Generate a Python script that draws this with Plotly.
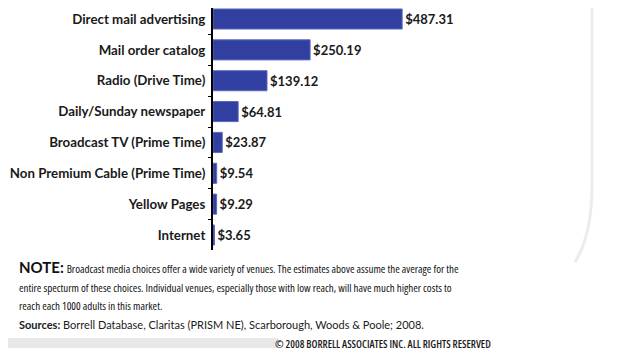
import plotly.graph_objects as go

categories = ["Direct mail advertising", "Mail order catalog", "Radio (Drive Time)",
              "Daily/Sunday newspaper", "Broadcast TV (Prime Time)",
              "Non Premium Cable (Prime Time)", "Yellow Pages", "Internet"]
values = [487.31, 250.19, 139.12, 64.81, 23.87, 9.54, 9.29, 3.65]
value_labels = ["$%.2f" % v for v in values]

OFF = 8  # default page body margin (page px = figure px + OFF)
W, H = 627 - OFF, 361 - 2 * OFF
L, R = 213 - OFF, 560 - OFF
PW = R - L
T, B = 0, 250 - OFF
PH = B - T


def px(x):
    return (x - OFF - L) / PW


def py(y):
    return 1 - (y - OFF - T) / PH


# category range so that centres land where the reference has them (page y 19 .. 235)
unit = (235 - 19) / 7
r_top = -(19 - (T + OFF)) / unit
r_bot = 7 + (B + OFF - 235) / unit

fig = go.Figure()
fig.add_trace(go.Bar(
    y=categories, x=values, orientation="h",
    text=value_labels, textposition="outside", cliponaxis=False,
    textfont=dict(family="Lato, Open Sans, sans-serif", size=13, color="#1a1a1a", weight="bold"),
    marker=dict(color="#3140a0", line=dict(color="#5a68c0", width=1)),
    width=0.65,
))

fig.update_layout(
    width=W, height=H,
    margin=dict(l=L, r=W - R, t=T, b=H - B),
    paper_bgcolor="white", plot_bgcolor="white",
    showlegend=False,
    xaxis=dict(range=[0, 894], visible=False, automargin=False),
    yaxis=dict(range=[r_bot, r_top], showline=True, linecolor="black", linewidth=2,
               ticks="outside", tickson="boundaries", ticklen=3, tickcolor="black",
               ticklabelstandoff=3, automargin=False,
               tickfont=dict(family="Lato, Open Sans, sans-serif", size=13.3, color="#1a1a1a", weight="bold"),
               showgrid=False, zeroline=False),
)

cond = "font-stretch:condensed"
note_lines = [
    "Broadcast media choices offer a wide variety of venues. The estimates above assume the average for the",
    "entire specturm of these choices. Individual venues, especially those with low reach, will have much higher costs to",
    "reach each 1000 adults in this market.",
]
note_y = [267, 287, 305]
for i, (line, yy) in enumerate(zip(note_lines, note_y)):
    prefix = "<b><span style='font-family:Lato;font-size:15px'>NOTE:</span></b> " if i == 0 else ""
    fig.add_annotation(xref="paper", yref="paper", x=px(17), y=py(yy), xanchor="left", yanchor="middle",
                       showarrow=False, align="left",
                       text=prefix + "<span style='%s'>%s</span>" % (cond, line),
                       font=dict(family="Open Sans", size=11, color="#111111"))

fig.add_annotation(xref="paper", yref="paper", x=px(17), y=py(324), xanchor="left", yanchor="middle",
                   showarrow=False, align="left",
                   text="<b>Sources:</b> Borrell Database, Claritas (PRISM NE), Scarborough, Woods &amp; Poole; 2008.",
                   font=dict(family="Lato, Open Sans, sans-serif", size=11, color="#1a1a1a"))
fig.add_annotation(xref="paper", yref="paper", x=px(493), y=py(344), xanchor="right", yanchor="middle",
                   showarrow=False, align="right",
                   text="<span style='%s'>© 2008 BORRELL ASSOCIATES INC. ALL RIGHTS RESERVED</span>" % cond,
                   font=dict(family="Open Sans", size=10.5, color="#1a1a1a", weight=600))

# decorative gray band and frame curve
fig.add_shape(type="rect", xref="paper", yref="paper", x0=px(OFF), x1=px(278),
              y0=py(348), y1=py(338), fillcolor="#e8e8e8", line_width=0, layer="below")
fig.add_shape(type="path", xref="paper", yref="paper",
              path="M %f %f L %f %f Q %f %f %f %f" % (px(592), py(OFF), px(592), py(185),
                                                   px(592), py(235), px(575), py(262)),
              line=dict(color="#ececec", width=3), layer="below")

fig.write_html("out.html")
